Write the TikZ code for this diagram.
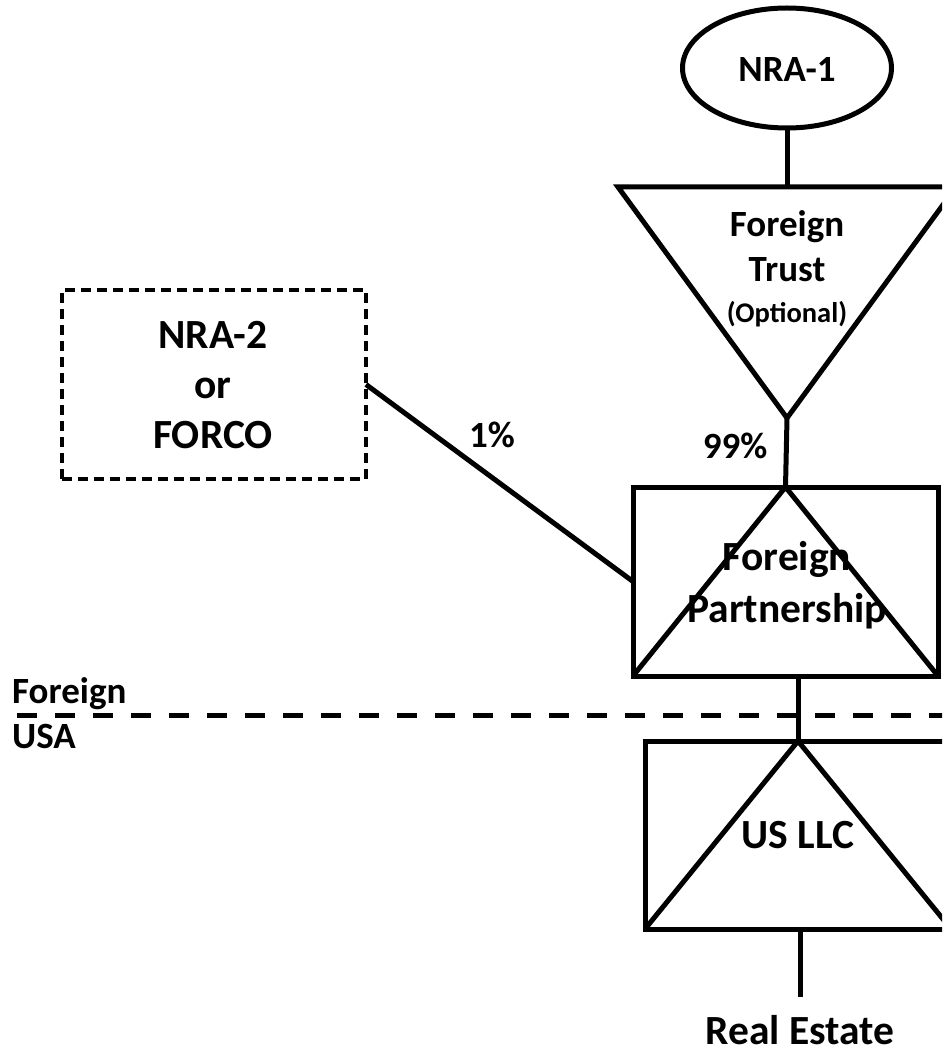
\documentclass[tikz,border=0pt]{standalone}
\usepackage{fontspec}
\setmainfont{Carlito}
\usetikzlibrary{shapes.geometric}
\begin{document}
\begin{tikzpicture}[x=1pt, y=-1pt,
  thick line/.style={line width=5pt},
  txt/.style={font=\bfseries\fontsize{37}{45}\selectfont, inner sep=0pt, anchor=base},
  bigtxt/.style={font=\bfseries\fontsize{41.5}{50}\selectfont, inner sep=0pt, anchor=base},
  smalltxt/.style={font=\bfseries\fontsize{28.5}{34}\selectfont, inner sep=0pt, anchor=base},
  entity/.style={draw, thick line, inner sep=0pt, outer sep=0pt},
  optional box/.style={draw, line width=3.2pt, dash pattern=on 10pt off 6pt,
                       inner sep=0pt, outer sep=0pt},
  border/.style={line width=5pt, dash pattern=on 20pt off 18pt}]
\useasboundingbox (0,0) rectangle (942,1048);
\clip (0,0) rectangle (942,1048);

% individual owner
\node[entity, ellipse, minimum width=209pt, minimum height=120pt] (nra1) at (787,68) {};
\node[txt] (nra1text) at (787,82) {NRA-1};

% foreign trust (inverted triangle)
\coordinate (trTL) at (618,187);
\coordinate (trTR) at (956,187);
\coordinate (trApex) at (787,418);
\coordinate (trTop) at (787,187);
\draw[thick line] (trTL) -- (trTR) -- (trApex) -- cycle;
\node[txt] (trust1) at (787,237) {Foreign};
\node[txt] (trust2) at (787,282) {Trust};
\node[smalltxt] (opt) at (787,322) {(Optional)};

% foreign partnership
\node[entity, minimum width=305pt, minimum height=189pt] (fp) at (785.5,581.5) {};
\draw[thick line] (fp.south west) -- (fp.north) -- (fp.south east);
\node[bigtxt] (fp1) at (787,570) {Foreign};
\node[bigtxt] (fp2) at (787,622) {Partnership};

% minority owner
\node[optional box, minimum width=304pt, minimum height=189pt] (nra2) at (214,384.5) {};
\node[bigtxt] (nra2a) at (213,348) {NRA-2};
\node[bigtxt] (nra2b) at (213,398) {or};
\node[bigtxt] (nra2c) at (213,448) {FORCO};

% US LLC
\node[entity, minimum width=306pt, minimum height=188pt] (llc) at (798,835) {};
\draw[thick line] (llc.south west) -- (llc.north) -- (llc.south east);
\node[bigtxt] (llctext) at (798,848) {US LLC};

% real estate
\coordinate (fpBottom) at (798,676);
\coordinate (llcBottom) at (800,929);
\coordinate (reTop) at (800,997);
\node[bigtxt] (re) at (800,1044) {Real Estate};

% ownership lines
\draw[thick line] (nra1.south) -- (trTop);
\draw[thick line] (trApex) -- (fp.north);
\draw[thick line] (nra2.east) -- (fp.west);
\draw[thick line] (fpBottom) -- (llc.north);
\draw[thick line] (llcBottom) -- (reTop);

% percentages
\node[txt] (pct1) at (492,447) {1\%};
\node[txt] (pct99) at (735,458) {99\%};

% jurisdiction border
\coordinate (bL) at (17,715);
\coordinate (bR) at (960,715);
\draw[border] (bL) -- (bR);
\node[txt, anchor=base west] (foreign) at (12,703) {Foreign};
\node[txt, anchor=base west] (usa) at (12,748) {USA};
\end{tikzpicture}
\end{document}
